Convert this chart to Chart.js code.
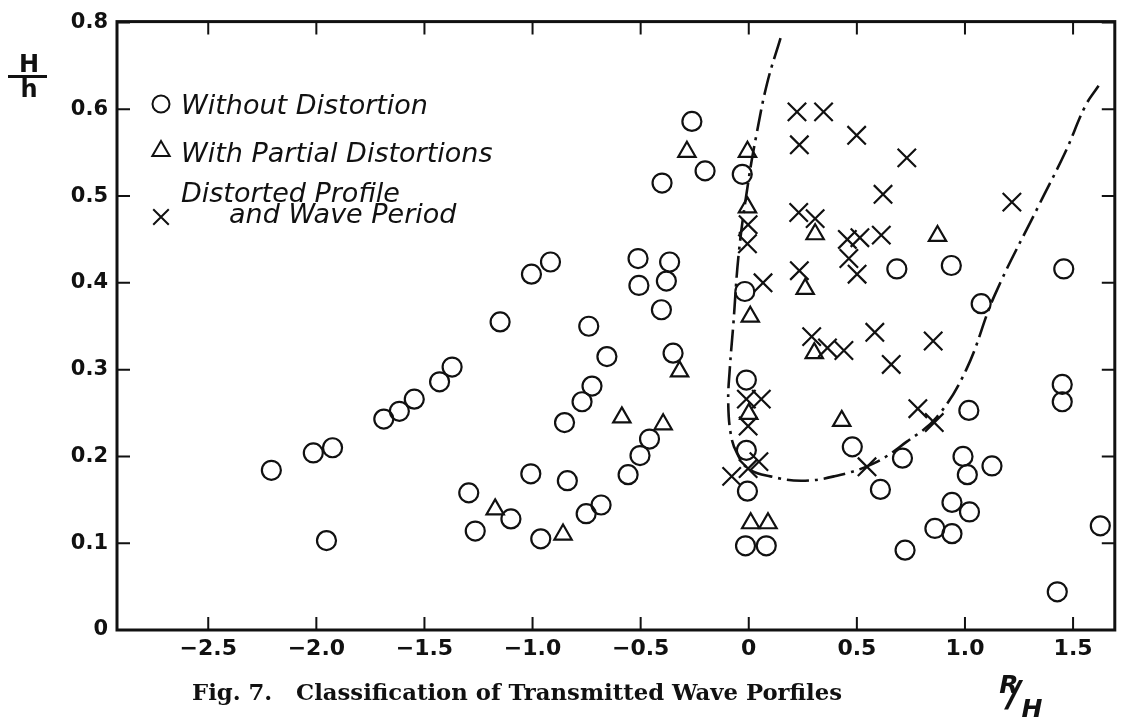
<!DOCTYPE html>
<html>
<head>
<meta charset="utf-8">
<script src="https://cdn.jsdelivr.net/npm/chart.js@4.4.1/dist/chart.umd.min.js"></script>
<style>
  html, body { margin: 0; padding: 0; background: #fff; }
  #wrap { width: 1130px; height: 726px; }
</style>
</head>
<body>
<div id="wrap"><canvas id="waveChart" width="1130" height="726"></canvas></div>
<script>
// circles: without distortion
const withoutX = [-2.208, -2.014, -1.925, -1.953, -1.688, -1.616, -1.547, -1.430, -1.372, -1.295, -1.265, -1.150, -1.100, -1.008, -1.005, -0.917,
  -0.962, -0.852, -0.839, -0.771, -0.740, -0.725, -0.752, -0.683, -0.656, -0.558, -0.503, -0.459, -0.512, -0.508, -0.404, -0.381,
  -0.366, -0.350, -0.401, -0.263, -0.202, -0.030, -0.018, -0.011, -0.011, -0.006, -0.015, 0.081, 0.479, 0.711,
  0.609, 0.723, 0.685, 0.937, 1.075, 1.457, 1.018, 0.991, 1.011, 1.125, 0.940, 1.021, 0.861, 0.940, 1.450, 1.450, 1.626, 1.427];
const withoutY = [0.184, 0.204, 0.210, 0.103, 0.243, 0.252, 0.266, 0.286, 0.303, 0.158, 0.114, 0.355, 0.128, 0.180, 0.410, 0.424,
  0.105, 0.239, 0.172, 0.263, 0.350, 0.281, 0.134, 0.144, 0.315, 0.179, 0.201, 0.220, 0.428, 0.397, 0.369, 0.402,
  0.424, 0.319, 0.515, 0.586, 0.529, 0.525, 0.390, 0.288, 0.207, 0.160, 0.097, 0.097, 0.211, 0.198,
  0.162, 0.092, 0.416, 0.420, 0.376, 0.416, 0.253, 0.200, 0.179, 0.189, 0.147, 0.136, 0.117, 0.111, 0.283, 0.263, 0.120, 0.044];

// triangles: with partial distortions
const partialX = [-1.173, -0.859, -0.587, -0.396, -0.320, -0.286, -0.006, -0.006, 0.007, 0.000, 0.009, 0.089, 0.307, 0.261, 0.303, 0.430, 0.873];
const partialY = [0.139, 0.110, 0.245, 0.237, 0.298, 0.551, 0.551, 0.487, 0.361, 0.249, 0.123, 0.123, 0.456, 0.393, 0.319, 0.241, 0.454];

// crosses: distorted profile and wave period
const distortedX = [-0.003, -0.006, 0.066, -0.011, 0.058, -0.003, 0.047, -0.003, -0.079, 0.223, 0.346, 0.234, 0.499, 0.731, 0.621, 1.217,
  0.231, 0.307, 0.456, 0.514, 0.613, 0.463, 0.501, 0.234, 0.291, 0.364, 0.440, 0.583, 0.659, 0.853, 0.782, 0.858, 0.547];
const distortedY = [0.467, 0.445, 0.400, 0.266, 0.266, 0.235, 0.194, 0.186, 0.177, 0.597, 0.597, 0.559, 0.570, 0.544, 0.502, 0.493,
  0.481, 0.474, 0.450, 0.452, 0.455, 0.428, 0.410, 0.414, 0.338, 0.325, 0.322, 0.343, 0.306, 0.333, 0.255, 0.239, 0.188];

// dash-dot boundary curve
const curveX = [0.147, 0.085, 0.035, 0.000, -0.045, -0.072, -0.088, -0.095, -0.082, -0.055, -0.003, 0.100, 0.242, 0.394, 0.578, 0.731, 0.869, 1.006, 1.136, 1.343, 1.465, 1.557, 1.618];
const curveY = [0.682, 0.630, 0.570, 0.520, 0.437, 0.350, 0.300, 0.262, 0.224, 0.204, 0.186, 0.177, 0.172, 0.177, 0.192, 0.217, 0.245, 0.300, 0.385, 0.490, 0.551, 0.604, 0.627];

const xTickValues = [-2.5, -2.0, -1.5, -1.0, -0.5, 0, 0.5, 1.0, 1.5];
const xTickLabels = ['\u22122.5', '\u22122.0', '\u22121.5', '\u22121.0', '\u22120.5', '0', '0.5', '1.0', '1.5'];
const yTickValues = [0, 0.1, 0.2, 0.3, 0.4, 0.5, 0.6, 0.7];
const yTickLabels = ['0', '0.1', '0.2', '0.3', '0.4', '0.5', '0.6', '0.8'];

const legendLabels = [['Without Distortion'], ['With Partial Distortions'], ['Distorted Profile', 'and Wave Period']];
const caption = 'Fig. 7.   Classification of Transmitted Wave Porfiles';

const toPoints = (xs, ys) => xs.map((x, i) => ({ x: x, y: ys[i] }));

const ink = '#111';
const markerStyles = [
  { pointStyle: 'circle', radius: 9.5, borderWidth: 2.2 },
  { pointStyle: 'triangle', radius: 10, borderWidth: 2.2 },
  { pointStyle: 'crossRot', radius: 13, borderWidth: 2.2 }
];

const framePlugin = {
  id: 'frame',
  afterDraw: (chart) => {
    const ctx = chart.ctx;
    const area = chart.chartArea;
    const xs = chart.scales.x;
    const ys = chart.scales.y;
    ctx.save();
    ctx.strokeStyle = ink;
    ctx.lineWidth = 3;
    ctx.strokeRect(area.left, area.top, area.right - area.left, area.bottom - area.top);

    // inward tick marks on all four sides
    ctx.lineWidth = 2;
    const tick = 13;
    xTickValues.forEach(v => {
      const px = xs.getPixelForValue(v);
      ctx.beginPath();
      ctx.moveTo(px, area.bottom); ctx.lineTo(px, area.bottom - tick);
      ctx.moveTo(px, area.top); ctx.lineTo(px, area.top + tick);
      ctx.stroke();
    });
    yTickValues.forEach(v => {
      const py = ys.getPixelForValue(v);
      ctx.beginPath();
      ctx.moveTo(area.left, py); ctx.lineTo(area.left + tick, py);
      ctx.moveTo(area.right, py); ctx.lineTo(area.right - tick, py);
      ctx.stroke();
    });

    // legend in the upper left corner (hollow markers)
    const rows = [104, 151, 217];
    const legendRadius = [8.5, 10, 11];
    const textRows = [[114], [162], [202, 223]];
    legendLabels.forEach((lines, i) => {
      ctx.fillStyle = 'rgba(0,0,0,0)';
      ctx.lineWidth = 2;
      Chart.helpers.drawPoint(ctx, { pointStyle: markerStyles[i].pointStyle, radius: legendRadius[i], borderWidth: 2 }, 161, rows[i]);
      ctx.fillStyle = ink;
      ctx.font = 'italic 27px "DejaVu Sans", sans-serif';
      ctx.textAlign = 'left';
      lines.forEach((line, j) => {
        ctx.fillText(line, j === 0 ? 181 : 229, textRows[i][j]);
      });
    });

    // y axis title H/h
    ctx.fillStyle = ink;
    ctx.font = 'bold 24px "DejaVu Sans", sans-serif';
    ctx.textAlign = 'center';
    ctx.fillText('H', 29, 72);
    ctx.fillRect(8, 75, 39, 3);
    ctx.fillText('h', 29, 97);

    // x axis title R/H
    ctx.font = 'italic bold 25px "DejaVu Sans", sans-serif';
    ctx.fillText('R', 1009, 693);
    ctx.font = 'italic bold 36px "DejaVu Sans", sans-serif';
    ctx.fillText('/', 1014, 706);
    ctx.font = 'italic bold 25px "DejaVu Sans", sans-serif';
    ctx.fillText('H', 1032, 717);

    // caption, stretched to the printed width
    ctx.textAlign = 'left';
    ctx.font = 'bold 22px "DejaVu Serif", serif';
    const w = ctx.measureText(caption).width;
    ctx.translate(192, 700);
    ctx.scale(650 / w, 1);
    ctx.fillText(caption, 0, 0);
    ctx.restore();
  }
};

const createChart = () => {
  const ctx = document.getElementById('waveChart').getContext('2d');

  const pointSet = (label, data, m) => ({
    label: label,
    data: data,
    showLine: false,
    pointStyle: m.pointStyle,
    pointRadius: m.radius,
    pointHoverRadius: m.radius,
    pointBorderWidth: m.borderWidth,
    pointBorderColor: ink,
    pointBackgroundColor: 'rgba(0,0,0,0)',
    borderColor: ink
  });

  const data = {
    datasets: [
      {
        label: 'Boundary',
        data: toPoints(curveX, curveY),
        showLine: true,
        pointRadius: 0,
        borderColor: ink,
        borderWidth: 2.6,
        borderDash: [22, 6, 3, 6],
        tension: 0.4,
        fill: false
      },
      pointSet('Without Distortion', toPoints(withoutX, withoutY), markerStyles[0]),
      pointSet('With Partial Distortions', toPoints(partialX, partialY), markerStyles[1]),
      pointSet('Distorted Profile and Wave Period', toPoints(distortedX, distortedY), markerStyles[2])
    ]
  };

  const options = {
    responsive: false,
    animation: false,
    devicePixelRatio: 1,
    layout: {
      padding: { top: 15, right: 7, left: 0, bottom: 0 }
    },
    plugins: {
      legend: { display: false },
      tooltip: { enabled: false }
    },
    scales: {
      x: {
        type: 'linear',
        min: -2.922,
        max: 1.693,
        grid: { display: false, drawTicks: false },
        border: { display: false },
        afterBuildTicks: (scale) => { scale.ticks = xTickValues.map(v => ({ value: v })); },
        afterFit: (scale) => { scale.height = 96; },
        ticks: {
          autoSkip: false,
          maxRotation: 0,
          padding: 6,
          color: ink,
          font: { family: '"DejaVu Sans", sans-serif', size: 22, weight: 'bold' },
          callback: (value, index) => xTickLabels[index]
        }
      },
      y: {
        type: 'linear',
        min: 0,
        max: 0.701,
        grid: { display: false, drawTicks: false },
        border: { display: false },
        afterBuildTicks: (scale) => { scale.ticks = yTickValues.map(v => ({ value: v })); },
        afterFit: (scale) => { scale.width = 117; },
        ticks: {
          autoSkip: false,
          padding: 9,
          color: ink,
          font: { family: '"DejaVu Sans", sans-serif', size: 21, weight: 'bold' },
          callback: (value, index) => yTickLabels[index]
        }
      }
    }
  };

  new Chart(ctx, {
    type: 'scatter',
    data: data,
    options: options,
    plugins: [framePlugin]
  });
};

window.onload = () => {
  createChart();
};
</script>
</body>
</html>
